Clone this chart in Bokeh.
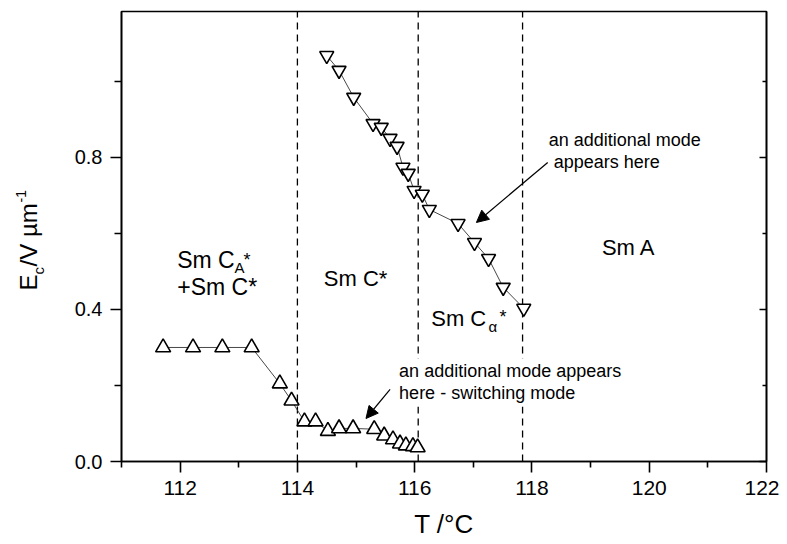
import math
from bokeh.plotting import figure
from bokeh.layouts import row
from bokeh.models import (Range1d, FixedTicker, NumeralTickFormatter, LinearAxis,
                          Label, Arrow, NormalHead, ColumnDataSource)
from bokeh.core.properties import value
from bokeh.embed import file_html
from bokeh.resources import INLINE

# ---------------- data ----------------
# lower branch (up triangles)
up_T = [111.71, 112.22, 112.72, 113.22, 113.70, 113.90, 114.12, 114.31, 114.52,
        114.71, 114.95, 115.31, 115.48, 115.63, 115.75, 115.85, 115.97, 116.05]
up_E = [0.300, 0.300, 0.300, 0.300, 0.205, 0.160, 0.105, 0.105, 0.080,
        0.087, 0.087, 0.085, 0.068, 0.058, 0.047, 0.042, 0.040, 0.037]
# upper branch (down triangles)
dn_T = [114.50, 114.71, 114.96, 115.29, 115.43, 115.58, 115.70, 115.80, 115.89,
        115.99, 116.13, 116.25, 116.74, 117.02, 117.26, 117.51, 117.86]
dn_E = [1.068, 1.029, 0.958, 0.889, 0.879, 0.850, 0.829, 0.774, 0.758,
        0.713, 0.703, 0.663, 0.626, 0.576, 0.534, 0.458, 0.403]
# phase boundaries
bounds_T = [114.0, 116.06, 117.84]

x_major = [112, 114, 116, 118, 120, 122]
x_minor = [111, 113, 115, 117, 119, 121]
y_major = [0.0, 0.4, 0.8]
y_minor = [0.2, 0.6, 1.0]

X0, X1 = 111.0, 122.0
Y0, Y1 = 0.0, 1.184

FONT = "Liberation Sans"
H = 544
LW = 60          # width of the strip that carries the y-axis title
TOP, BOTTOM = 11, 83

yr = Range1d(Y0, Y1)

# helpers: convert reference pixel positions of text to data coordinates
def dx(px):
    return X0 + (px - 121.5) / 58.4

def dy(py):
    return (461.0 - py) / 380.0

# ------------- y-axis title strip -------------
lf = figure(width=LW, height=H, x_range=Range1d(0, LW), y_range=yr,
            x_axis_type=None, y_axis_type=None, output_backend="svg",
            toolbar_location=None, min_border_left=0, min_border_right=0,
            min_border_top=TOP, min_border_bottom=BOTTOM)
lf.grid.visible = False
lf.outline_line_color = None
lf.background_fill_color = "white"
lf.border_fill_color = "white"

ylab_text = ["E", "c", "/V \u00b5m", "-1"]
ylab_size = ["24px", "15px", "24px", "14px"]
ylab_px = [28, 38, 28, 20]
ylab_py = [290, 274, 266, 202]
for t, s, px, py in zip(ylab_text, ylab_size, ylab_px, ylab_py):
    lf.text(x=[px], y=[dy(py)], text=[t], angle=math.pi / 2,
            text_font=value(FONT), text_font_size=s, text_color="black",
            text_align="left", text_baseline="middle")

# ------------- main figure -------------
p = figure(width=779 - LW, height=H, x_range=Range1d(X0, X1), y_range=yr,
           output_backend="svg", toolbar_location=None,
           min_border_left=121 - LW, min_border_right=13, min_border_top=TOP,
           min_border_bottom=BOTTOM)
p.xgrid.visible = False
p.ygrid.visible = False
p.outline_line_color = "black"
p.outline_line_width = 1.6
p.background_fill_color = "white"
p.border_fill_color = "white"

# x axis
xa = p.xaxis[0]
xa.ticker = FixedTicker(ticks=x_major, minor_ticks=x_minor)
xa.major_tick_out = 11
xa.major_tick_in = 0
xa.minor_tick_out = 6
xa.minor_tick_in = 0
xa.axis_line_width = 1.6
xa.major_tick_line_width = 1.6
xa.minor_tick_line_width = 1.6
xa.major_label_text_font = FONT
xa.major_label_text_font_size = "21px"
xa.major_label_text_color = "black"
xa.major_label_standoff = 8
xa.axis_label = "T /°C"
xa.axis_label_text_font = FONT
xa.axis_label_text_font_size = "26px"
xa.axis_label_text_font_style = "normal"
xa.axis_label_text_color = "black"
xa.axis_label_standoff = 11

# y axis
ya = p.yaxis[0]
ya.ticker = FixedTicker(ticks=y_major, minor_ticks=y_minor)
ya.formatter = NumeralTickFormatter(format="0.0")
ya.major_tick_out = 11
ya.major_tick_in = 0
ya.minor_tick_out = 7
ya.minor_tick_in = 0
ya.axis_line_width = 1.6
ya.major_tick_line_width = 1.6
ya.minor_tick_line_width = 1.6
ya.major_label_text_font = FONT
ya.major_label_text_font_size = "20px"
ya.major_label_text_color = "black"
ya.major_label_standoff = 8

# right axis, inward ticks, no labels
ra = LinearAxis(ticker=FixedTicker(ticks=y_major, minor_ticks=y_minor))
ra.major_tick_in = 7
ra.major_tick_out = 0
ra.minor_tick_in = 4
ra.minor_tick_out = 0
ra.axis_line_width = 1.6
ra.major_tick_line_width = 1.4
ra.minor_tick_line_width = 1.4
ra.major_label_text_color = None
ra.major_label_text_font_size = "1px"
ra.major_label_standoff = 0
p.add_layout(ra, "right")

# phase boundaries (dashed)
p.segment(x0=bounds_T, y0=[Y0] * len(bounds_T), x1=bounds_T, y1=[Y1] * len(bounds_T),
          line_color="black", line_width=1.3, line_dash="7 5")

# data
up_src = ColumnDataSource(dict(T=up_T, E=up_E))
dn_src = ColumnDataSource(dict(T=dn_T, E=dn_E))
p.line("T", "E", source=up_src, line_color="#333333", line_width=0.9)
p.line("T", "E", source=dn_src, line_color="#333333", line_width=0.9)
p.scatter("T", "E", source=up_src, marker="triangle", size=15,
          fill_color="white", line_color="black", line_width=1.6)
p.scatter("T", "E", source=dn_src, marker="inverted_triangle", size=14,
          fill_color="white", line_color="black", line_width=1.6)

def lab(text, px, py, size, bg=None):
    kw = {}
    if bg:
        kw = dict(background_fill_color=bg, padding=3)
    p.add_layout(Label(x=dx(px), y=dy(py), text=text, text_font=FONT,
                       text_font_size=f"{size}px", text_color="black",
                       text_align="left", text_baseline="alphabetic", **kw))

# phase labels
lab("Sm C", 177, 260, 23)
lab("A", 234, 267, 15)
lab("*", 243, 260, 18)
lab("+Sm C*", 177, 287, 23)
lab("Sm C*", 323, 278, 22)
lab("Sm C", 430, 318, 22)
lab("\u03b1", 487, 326, 15)
lab("*", 498, 317, 18)
lab("Sm A", 600, 247, 22)

# annotations
lab("an additional mode", 547, 140, 18)
lab("appears here", 552, 162, 18)
lab("here - switching mode", 395, 393, 18, bg="white")
lab("an additional mode appears", 395, 371, 18, bg="white")

p.add_layout(Arrow(x_start=dx(546), y_start=dy(162), x_end=dx(475), y_end=dy(222),
                   line_color="black", line_width=1.2,
                   end=NormalHead(size=12, fill_color="black", line_color="black")))
p.add_layout(Arrow(x_start=dx(389), y_start=dy(389), x_end=dx(365), y_end=dy(418),
                   line_color="black", line_width=1.2,
                   end=NormalHead(size=12, fill_color="black", line_color="black")))

layout = row(lf, p)
open("out.html", "w").write(file_html(layout, INLINE))
